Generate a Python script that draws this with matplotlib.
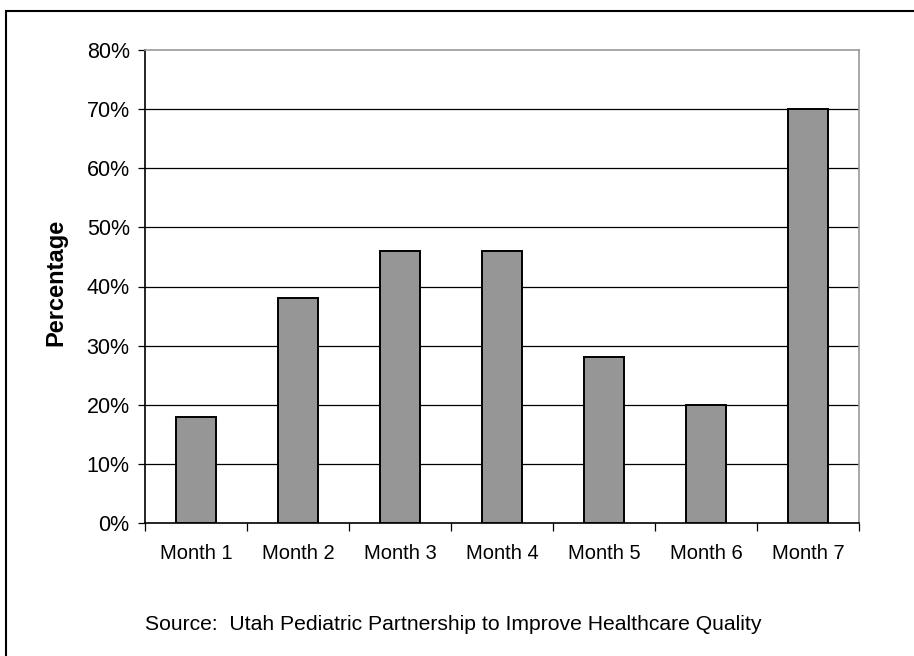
import matplotlib.pyplot as plt
from matplotlib.patches import Rectangle
import numpy as np

plt.rcParams['font.family'] = ['Liberation Sans', 'DejaVu Sans']

months = ["Month 1", "Month 2", "Month 3", "Month 4", "Month 5", "Month 6", "Month 7"]
pct = [18, 38, 46, 46, 28, 20, 70]
yticks = [0, 10, 20, 30, 40, 50, 60, 70, 80]
source = "Source:  Utah Pediatric Partnership to Improve Healthcare Quality"

fig = plt.figure(figsize=(9.14, 6.56), dpi=100)
ax = fig.add_axes([145/914, 1-523/656, (859-145)/914, (523-50)/656])

# outer frame (runs off the right and bottom edges)
fig.patches.append(Rectangle((6/914, -0.2), 1.2, 1.2 - 11/656, transform=fig.transFigure,
                             fill=False, edgecolor='black', linewidth=1.5))

x = np.arange(len(months))
ax.bar(x, pct, width=0.39, color='#969696', edgecolor='black', linewidth=1.4, zorder=3)

ax.set_xlim(-0.5, len(months) - 0.5)
ax.set_ylim(0, 80)
ax.set_yticks(yticks)
ax.set_yticklabels([f"{v}%" for v in yticks], fontsize=15.5)
for v in yticks[1:-1]:
    ax.axhline(v, color='black', linewidth=0.9, zorder=1)

ax.set_xticks(np.arange(-0.5, len(months)), labels=[])
ax.set_xticks(x, labels=months, minor=True, fontsize=14.5)
ax.tick_params(axis='x', which='minor', length=0, pad=15)
ax.tick_params(axis='x', which='major', length=6, direction='out', width=0.9)
ax.tick_params(axis='y', length=5, direction='out', width=0.9, pad=6)

ax.spines['left'].set_color('black')
ax.spines['bottom'].set_color('black')
ax.spines['top'].set_color('#999999')
ax.spines['right'].set_color('#999999')
for s in ax.spines.values():
    s.set_linewidth(1.2)

ax.set_ylabel("Percentage", fontsize=17, fontweight='bold')
ax.yaxis.set_label_coords(-(145 - 67) / (859 - 145), (523 - 282) / (523 - 50))

fig.text(145/914, 1-624/656, source, fontsize=15.2, ha='left', va='center')

fig.savefig("out.png", dpi=100)
